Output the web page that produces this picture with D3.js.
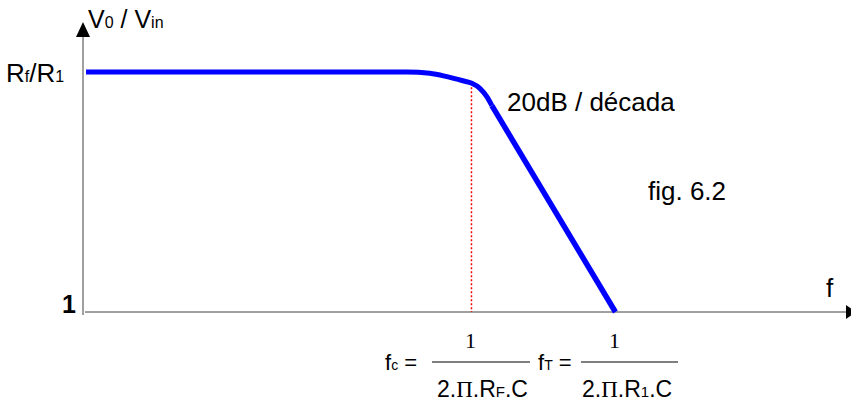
<!DOCTYPE html>
<html>
<head>
<meta charset="utf-8">
<script src="https://cdn.jsdelivr.net/npm/d3@7"></script>
<style>
  html, body { margin: 0; padding: 0; background: #fff; }
  svg { display: block; font-family: "Liberation Sans", Arial, sans-serif; }
</style>
</head>
<body>
<svg id="chart" width="851" height="410"></svg>
<script>
// gain curve, frequency in Hz (arbitrary units), gain in dB above unity
const respFreq = [0.21, 35.6, 51.4, 67.5, 87.1, 100.6, 114.4, 127.8, 138.6];
const respGain = [20, 20, 19.89, 19.61, 19.27, 19.06, 18.64, 17.94, 17.2];
// asymptotic roll-off, 20 dB / decade
const slopeFreq = [138.6, 1000];
const slopeGain = [17.2, 0];
// corner frequencies: fc and fT
const cornerFreq = [100, 1000];
const cornerGain = [18.9, 0];

const svg = d3.select("#chart");

const x = d3.scaleLog().domain([0.2, 40000]).range([83, 846]);
const y = d3.scaleLinear().domain([0, 20]).range([312, 72]);

const axisColor = "#404040";
const serif = "'Liberation Serif', 'Times New Roman', serif";

// axes
svg.append("line")
  .attr("x1", x(0.2)).attr("x2", x(0.2))
  .attr("y1", 35).attr("y2", y(0) + 3)
  .attr("stroke", axisColor).attr("stroke-width", 1);
svg.append("path")
  .attr("d", `M${x(0.2)},22 L${x(0.2) - 7},37 L${x(0.2) + 7},37 Z`)
  .attr("fill", "#000");

svg.append("line")
  .attr("x1", x(0.2) + 2).attr("x2", 846)
  .attr("y1", y(0)).attr("y2", y(0))
  .attr("stroke", axisColor).attr("stroke-width", 1);
svg.append("path")
  .attr("d", `M846,${y(0) - 7} L856,${y(0)} L846,${y(0) + 7} Z`)
  .attr("fill", "#000");

// dotted marker at fc
svg.append("line")
  .attr("x1", x(cornerFreq[0])).attr("x2", x(cornerFreq[0]))
  .attr("y1", y(cornerGain[0]) + 2).attr("y2", y(0))
  .attr("stroke", "#ff0000").attr("stroke-width", 1.5)
  .attr("stroke-dasharray", "2,2");

// response
svg.append("path")
  .datum(d3.zip(respFreq, respGain))
  .attr("d", d3.line().x((d) => x(d[0])).y((d) => y(d[1])).curve(d3.curveMonotoneX))
  .attr("fill", "none").attr("stroke", "#0000ff").attr("stroke-width", 5);
svg.append("path")
  .datum(d3.zip(slopeFreq, slopeGain))
  .attr("d", d3.line().x((d) => x(d[0])).y((d) => y(d[1])))
  .attr("fill", "none").attr("stroke", "#0000ff").attr("stroke-width", 5.5)
  .attr("stroke-linecap", "butt");

// labels
const fs = 26;
const subFs = 16;

function label(xPos, yPos, parts, size = fs, sSize = subFs) {
  const t = svg.append("text").attr("x", xPos).attr("y", yPos).attr("font-size", size);
  parts.forEach(([s, isSub, font]) => {
    const ts = t.append("tspan").text(s);
    if (isSub) ts.attr("font-size", sSize);
    if (font) ts.attr("font-family", font);
  });
  return t;
}

label(88, 28, [["V"], ["0", true], [" / V"], ["in", true]], 25, 16);
label(6, 82, [["R"], ["f", true], ["/R"], ["1", true]]);

svg.append("text").attr("x", 76).attr("y", 313)
  .attr("text-anchor", "end").attr("font-size", 25).attr("font-weight", "bold")
  .text("1");

svg.append("text").attr("x", 826).attr("y", 297).attr("font-size", fs).text("f");

svg.append("text").attr("x", 507).attr("y", 111).attr("font-size", fs)
  .text("20dB / década");
svg.append("text").attr("x", 648).attr("y", 200).attr("font-size", fs)
  .text("fig. 6.2");

// formulas under the corner frequencies
cornerFreq.forEach((f) => {
  svg.append("text").attr("x", x(f) - 1).attr("y", 348)
    .attr("text-anchor", "middle")
    .attr("font-family", serif)
    .attr("font-size", 22).text("1");
});

const fracLines = [[432, 530], [581, 678]];
fracLines.forEach(([a, b]) => {
  svg.append("line").attr("x1", a).attr("x2", b)
    .attr("y1", 362).attr("y2", 362)
    .attr("stroke", "#000").attr("stroke-width", 1);
});

label(385, 370, [["f"], ["c", true], [" ="]], 22, 14);
label(538, 370, [["f"], ["T", true], [" ="]], 22, 14);

label(437, 397, [["2."], ["Π", false, serif], [".R"], ["F", true], [".C"]], 23, 15);
label(582, 397, [["2."], ["Π", false, serif], [".R"], ["1", true], [".C"]], 23, 15);
</script>
</body>
</html>
